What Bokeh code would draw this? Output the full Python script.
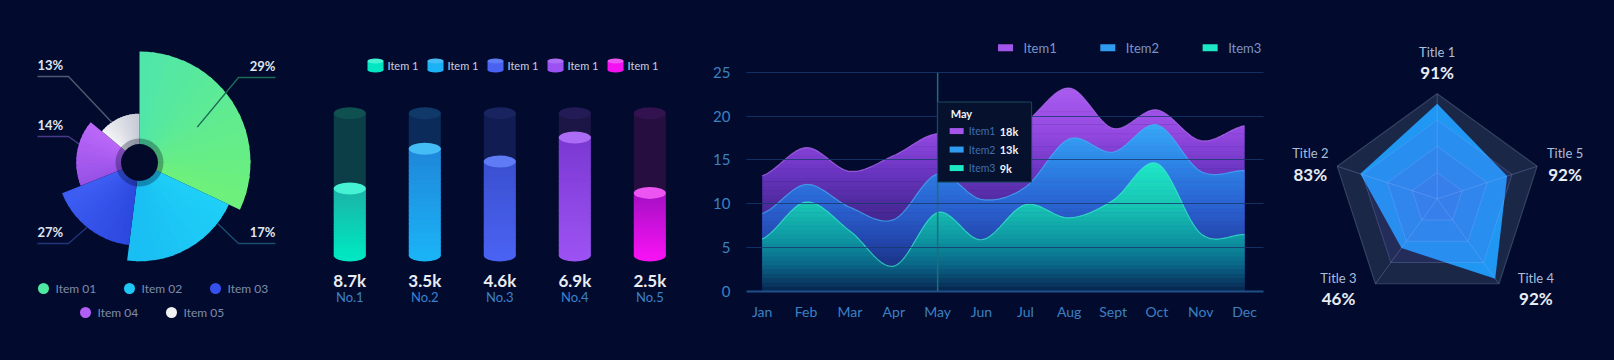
import numpy as np
from bokeh.plotting import figure
from bokeh.layouts import row
from bokeh.models import Range1d, FixedTicker
from bokeh.core.properties import value
from bokeh.embed import file_html
from bokeh.resources import INLINE

BG = "#020b2e"
FONT = "Lato"

# ---------------- data ----------------
pie_items = ["Item 01", "Item 02", "Item 03", "Item 04", "Item 05"]
pie_pct = [29, 17, 27, 14, 13]
pie_sweep = [32, 20, 17, 17, 14]       # share of the circle (%)
pie_reach = [100, 89, 75, 57, 44]      # relative radius

cyl_names = ["No.1", "No.2", "No.3", "No.4", "No.5"]
cyl_values = [8.7, 3.5, 4.6, 6.9, 2.5]
cyl_level = [47, 75, 66, 83, 44]       # fill level (%)
cyl_legend = ["Item 1", "Item 1", "Item 1", "Item 1", "Item 1"]

months = ["Jan", "Feb", "Mar", "Apr", "May", "Jun", "Jul", "Aug", "Sept", "Oct", "Nov", "Dec"]
item1 = [13.2, 16.4, 13.7, 15.5, 18.0, 16.5, 19.3, 23.2, 18.6, 20.7, 17.2, 18.9]
item2 = [8.9, 12.2, 9.6, 8.2, 13.4, 10.5, 11.9, 17.4, 15.9, 19.0, 13.7, 13.8]
item3 = [6.0, 10.2, 6.9, 2.9, 9.0, 5.9, 9.9, 8.4, 10.4, 14.6, 6.6, 6.5]
area_names = ["Item1", "Item2", "Item3"]
tip_month = "May"

radar_titles = ["Title 1", "Title 2", "Title 3", "Title 4", "Title 5"]
radar_pct = [91, 83, 46, 92, 92]
radar_shape = [0.905, 0.77, 0.58, 0.94, 0.70]
radar_rings = [0.25, 0.5, 0.75, 1.0]


# ---------------- helpers ----------------
def rgb(h):
    h = h.lstrip("#")
    return np.array([int(h[i:i + 2], 16) for i in (0, 2, 4)], float)


def mix(a, b, t):
    c = rgb(a) * (1 - t) + rgb(b) * t
    return "#%02x%02x%02x" % tuple(int(round(v)) for v in c)


def grad(stops, y):
    if y <= stops[0][0]:
        return stops[0][1]
    for (y0, c0), (y1, c1) in zip(stops, stops[1:]):
        if y <= y1:
            return mix(c0, c1, (y - y0) / (y1 - y0))
    return stops[-1][1]


def smooth(ys, n=24):
    pts = [ys[0]] + list(ys) + [ys[-1]]
    xo, yo = [], []
    for i in range(len(ys) - 1):
        p0, p1, p2, p3 = pts[i], pts[i + 1], pts[i + 2], pts[i + 3]
        for t in np.linspace(0, 1, n, endpoint=False):
            y = 0.5 * (2 * p1 + (-p0 + p2) * t + (2 * p0 - 5 * p1 + 4 * p2 - p3) * t ** 2
                       + (-p0 + 3 * p1 - 3 * p2 + p3) * t ** 3)
            xo.append(i + t)
            yo.append(y)
    xo.append(len(ys) - 1)
    yo.append(ys[-1])
    return np.array(xo), np.array(yo)


def base(w, h, xr, yr, **kw):
    return figure(width=w, height=h, x_range=Range1d(*xr), y_range=Range1d(*yr),
                  output_backend="svg", toolbar_location=None,
                  background_fill_color=BG, border_fill_color=BG,
                  outline_line_color=None, min_border=0, frame_align=False, **kw)


def txt(p, x, y, t, size, color, align="left", baseline="middle", bold=False, **kw):
    p.text(x=x, y=y, text=t, text_font=value(FONT), text_font_size=size,
           text_color=color, text_align=align, text_baseline=baseline,
           text_font_style="bold" if bold else "normal", **kw)


# ---------------- panel 1: rose / pie ----------------
p1 = base(292, 344, (-131, 161), (-190, 154), x_axis_type=None, y_axis_type=None)
R = 111.0
pie_grad = [("#4fe6ac", "#6ef07a"), ("#1fd0f8", "#19bdf3"), ("#2b47de", "#3d5df3"),
            ("#9650e6", "#bb68f8"), ("#f4f5f7", "#c6cad6")]
frac = np.array(pie_sweep, float) / sum(pie_sweep)
cum = np.concatenate([[0], np.cumsum(frac)])
K = 14
for i in range(5):
    a0 = np.pi / 2 - cum[i] * 2 * np.pi
    a1 = np.pi / 2 - cum[i + 1] * 2 * np.pi
    edges = np.linspace(a0, a1, K + 1)
    cols = [mix(pie_grad[i][0], pie_grad[i][1], (k + 0.5) / K) for k in range(K)]
    ends = list(edges[:-1])
    ends[1:] = [e + 0.03 for e in ends[1:]]
    p1.annular_wedge(x=0, y=0, inner_radius=17, outer_radius=R * pie_reach[i] / 100,
                     start_angle=list(edges[1:]), end_angle=ends,
                     fill_color=cols, line_color=None)
p1.annulus(x=0, y=0, inner_radius=18, outer_radius=24, fill_color="#000520",
           fill_alpha=0.3, line_color=None)
p1.circle(x=0, y=0, radius=18.5, fill_color="#030928", line_color=None)

lead_ang = [31.5, -38, -129, 163, 124.6]
lead_rf = [0.61, 1.0, 1.0, 1.0, 1.0]
lead_y = [85, -81, -81, 26, 86]
lead_col = ["#1f6a55", "#1a4d6e", "#22347a", "#4a3a86", "#4f5a70"]
for i in range(5):
    r = R * pie_reach[i] / 100 * lead_rf[i]
    a = np.radians(lead_ang[i])
    ax, ay = r * np.cos(a), r * np.sin(a)
    right = np.cos(a) > 0
    xs = [ax, 99, 136] if right else [ax, -71, -102]
    ys = [ay, lead_y[i], lead_y[i]]
    p1.line(xs, ys, line_color=lead_col[i], line_width=1.4)
    txt(p1, xs[2], lead_y[i] + 4, [f"{pie_pct[i]}%"], "13px", "#dfe5ee",
        align="right" if right else "left", baseline="bottom", bold=True)

leg_col = ["#4fe8a0", "#1ec8f6", "#3650ee", "#b05ef5", "#f2f2f2"]
for i, name in enumerate(pie_items):
    r_, c_ = divmod(i, 3)
    lx = (-96 if r_ == 0 else -54) + 86 * c_
    ly = -126 if r_ == 0 else -150
    p1.scatter(x=[lx], y=[ly], size=11, fill_color=leg_col[i], line_color=None)
    txt(p1, [lx + 12], [ly], [name], "12px", "#7d8bab")

# ---------------- panel 2: cylinders ----------------
p2 = base(380, 344, (-0.657, 4.409), (-0.682, 1.736), x_axis_type=None, y_axis_type=None)
PX2, PY2 = 75.0, 142.3
cyl_top = ["#1bb3a6", "#1f86d9", "#3a4fcf", "#7a38d2", "#a30fc4"]
cyl_bot = ["#00e6c2", "#1bb2f6", "#4a62f2", "#9c52f2", "#f412f2"]
cyl_cap = ["#45f2d4", "#44bdf6", "#5f7cf6", "#ad6cf6", "#ec55f2"]
cyl_track = ["#0c3e48", "#0b2c5a", "#111c52", "#1b1646", "#260f40"]
cyl_track_cap = ["#0f5050", "#10396a", "#17245f", "#231b56", "#32124f"]
cx = list(range(5))
W = 32 / PX2
p2.vbar(x=cx, bottom=0, top=1, width=W, fill_color=cyl_track, line_color=None)
p2.ellipse(x=cx, y=1, width=32, height=12, width_units="screen", height_units="screen",
           fill_color=cyl_track_cap, line_color=None)
p2.ellipse(x=cx, y=0, width=32, height=12, width_units="screen", height_units="screen",
           fill_color=cyl_bot, line_color=None)
NB = 24
for i in range(5):
    lv = cyl_level[i] / 100
    e = np.linspace(0, lv, NB + 1)
    cols = [mix(cyl_bot[i], cyl_top[i], (k + 0.5) / NB) for k in range(NB)]
    p2.vbar(x=i, bottom=list(e[:-1]), top=list(e[1:] + 0.006), width=W,
            fill_color=cols, line_color=None)
    p2.ellipse(x=[i], y=[lv], width=32, height=12, width_units="screen", height_units="screen",
               fill_color=cyl_cap[i], line_color=None)
txt(p2, cx, -0.176, [f"{v}k" for v in cyl_values], "17px", "#e9edf3", align="center", bold=True)
txt(p2, cx, -0.293, cyl_names, "13px", "#3b82cc", align="center")
for k in range(5):
    lx = 0.343 + 0.8 * k
    ly = 1.335
    p2.rect(x=[lx], y=[ly], width=16, height=9, width_units="screen", height_units="screen",
            fill_color=cyl_bot[k], line_color=None)
    p2.ellipse(x=[lx], y=[ly - 4.5 / PY2], width=16, height=5, width_units="screen",
               height_units="screen", fill_color=cyl_bot[k], line_color=None)
    p2.ellipse(x=[lx], y=[ly + 4.5 / PY2], width=16, height=5, width_units="screen",
               height_units="screen", fill_color=cyl_cap[k], line_color=None)
    txt(p2, [lx + 12 / PX2], [ly], [cyl_legend[k]], "11px", "#c8d0e0")

# ---------------- panel 3: areas ----------------
p3 = base(600, 344, (-0.358, 11.43), (0, 30.9))
p3.min_border_left = 66
p3.min_border_right = 17
p3.min_border_top = 12
p3.min_border_bottom = 61
SX, SY = 517 / (11.43 + 0.358), 271 / 30.9

p3.xaxis.ticker = FixedTicker(ticks=list(range(12)))
p3.xaxis.major_label_overrides = {i: m for i, m in enumerate(months)}
p3.yaxis.ticker = FixedTicker(ticks=[0, 5, 10, 15, 20, 25])
for ax in (p3.xaxis[0], p3.yaxis[0]):
    ax.major_tick_line_color = None
    ax.minor_tick_line_color = None
    ax.major_tick_out = 0
    ax.major_label_text_color = "#3d80c2"
    ax.major_label_text_font = FONT
p3.xaxis.major_label_text_font_size = "14px"
p3.yaxis.major_label_text_font_size = "15px"
p3.xaxis.major_label_standoff = 11
p3.yaxis.major_label_standoff = 16
p3.yaxis.axis_line_color = None
p3.xaxis.axis_line_color = "#1f4f86"
p3.xaxis.axis_line_width = 2
p3.xgrid.grid_line_color = None
p3.ygrid.grid_line_color = "#17386e"
p3.ygrid.grid_line_alpha = 0.8
p3.ygrid.level = "annotation"

area_stops = [
    [(0, "#201860"), (10, "#4e2a9e"), (14, "#6d36c4"), (18, "#9348e0"), (24, "#ad5ff0")],
    [(0, "#10205e"), (6, "#2448b0"), (10, "#2a64d2"), (14, "#2c80e4"), (19, "#36a8f6")],
    [(0, "#07244f"), (3, "#0a6688"), (6, "#0d96a2"), (10, "#18c6b4"), (15, "#20eac8")],
]
line_cols = ["#b56cf2", "#48b0f8", "#3af0d0"]
mark_cols = ["#a456ea", "#2f9cf2", "#1ee8c4"]
STEP = 0.5
curves = []
for k, series in enumerate([item1, item2, item3]):
    sx, sy = smooth(series)
    curves.append((sx, sy))
    for ya in np.arange(0, sy.max(), STEP):
        y1 = np.minimum(sy, ya)
        y2 = np.minimum(sy, ya + STEP + 0.05)
        p3.varea(x=sx, y1=y1, y2=y2, fill_color=grad(area_stops[k], ya + STEP / 2))
for k, (sx, sy) in enumerate(curves):
    p3.line(sx, sy, line_color=line_cols[k], line_width=1.2, line_alpha=0.7)

mi = months.index(tip_month)
p3.segment(x0=[mi], y0=[0], x1=[mi], y1=[25], line_color="#1f6e78", line_width=1.5,
           level="annotation")

# tooltip
tt, th, tw = 21.6, 80, 94
p3.quad(left=[mi], right=[mi + tw / SX], top=[tt], bottom=[tt - th / SY],
        fill_color="#06112e", line_color="#1c4a5c", line_width=1, level="overlay")
p3.text(x=[mi + 13 / SX], y=[tt - 11.6 / SY], text=[tip_month], text_font=value(FONT),
        text_font_size="11px", text_color="#f0f2f6", text_font_style="bold",
        text_baseline="middle", level="overlay")
for r, series in enumerate([item1, item2, item3]):
    yy = tt - (29 + 18.5 * r) / SY
    p3.rect(x=[mi + 19 / SX], y=[yy], width=14, height=6, width_units="screen",
            height_units="screen", fill_color=mark_cols[r], line_color=None, level="overlay")
    p3.text(x=[mi + 31 / SX], y=[yy], text=[area_names[r]], text_font=value(FONT),
            text_font_size="10.5px", text_color="#3f6fae", text_baseline="middle",
            level="overlay")
    p3.text(x=[mi + 62 / SX], y=[yy], text=[f"{series[mi]:.0f}k"], text_font=value(FONT),
            text_font_size="11px", text_color="#f0f2f6", text_font_style="bold",
            text_baseline="middle", level="overlay")

# legend
for k in range(3):
    lx = 5.548 + k * 102.3 / SX
    ly = 27.8
    p3.rect(x=[lx], y=[ly], width=15, height=7, width_units="screen", height_units="screen",
            fill_color=mark_cols[k], line_color=None)
    txt(p3, [lx + 18 / SX], [ly], [area_names[k]], "13px", "#7d93c4")

# ---------------- panel 4: radar ----------------
p4 = base(326, 344, (-1.4924, 1.6124), (-1.4638, 1.8124), x_axis_type=None, y_axis_type=None)
ang = np.pi / 2 + np.arange(5) * 2 * np.pi / 5
ox, oy = np.cos(ang) * radar_rings[-1], np.sin(ang) * radar_rings[-1]
p4.patch(ox, oy, fill_color="#1b2747", line_color="#34425f", line_width=1.2)
rs = np.array(radar_shape)
p4.patch(rs * np.cos(ang), rs * np.sin(ang), fill_color="#1f97f3", line_color=None)
for rr in radar_rings[-2::-1]:
    p4.patch(rr * np.cos(ang), rr * np.sin(ang), fill_color="#6a4fe0", fill_alpha=0.12,
             line_color="#9fc0ff", line_alpha=0.22, line_width=1)
p4.segment(x0=0, y0=0, x1=list(ox), y1=list(oy), line_color="#a0c0ff", line_alpha=0.25,
           line_width=1)
title_off = [(0, 42), (-27, 13), (-37, 6), (37, 6), (28, 13)]
RP = 105.0
for k in range(5):
    tx = ox[k] + title_off[k][0] / RP
    ty = oy[k] + title_off[k][1] / RP
    txt(p4, [tx], [ty], [radar_titles[k]], "13px", "#a9bfdc", align="center")
    txt(p4, [tx], [ty - 21 / RP], [f"{radar_pct[k]}%"], "17px", "#e8edf5",
        align="center", bold=True)

layout = row(p1, p2, p3, p4)
html = file_html(layout, INLINE, title="Dashboard")
css = ("<style>html{background-color:%s !important;}"
       "body{background-color:%s !important;padding:8px !important;"
       "margin:0 !important;box-sizing:border-box !important;}</style>" % (BG, BG))
idx = html.rfind("</head>")
html = html[:idx] + css + html[idx:]
open("out.html", "w").write(html)
